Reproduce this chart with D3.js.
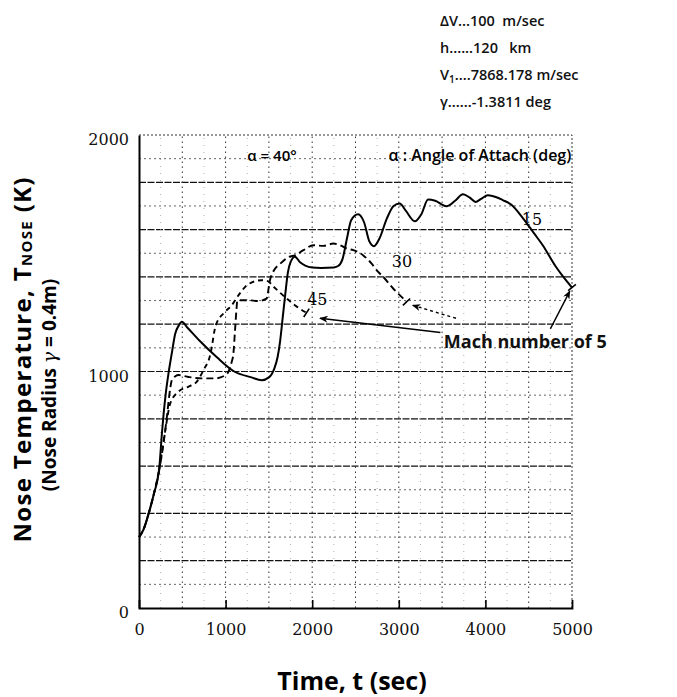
<!DOCTYPE html>
<html>
<head>
<meta charset="utf-8">
<script src="https://cdn.jsdelivr.net/npm/d3@7"></script>
<style>
  body { margin: 0; background: #fff; }
  text { white-space: pre; }
</style>
</head>
<body>
<script>
// tick labels
const xTicks = [0, 1000, 2000, 3000, 4000, 5000];
const yTicks = [0, 1000, 2000];

// flight conditions (top right)
const conditions = [
  ['ΔV', '', '...100  m/sec'],
  ['h', '', '......120   km'],
  ['V', '1', '....7868.178 m/sec'],
  ['γ', '', '......-1.3811 deg']
];

// alpha = 15 deg (solid)
const time15 = [0, 50, 112, 170, 235, 265, 284, 310, 342, 380, 418, 460, 495, 560, 700, 900, 1100, 1300, 1416,
  1500, 1560, 1600, 1630, 1660, 1690, 1720, 1750, 1800, 1860, 1920, 2000, 2100, 2250, 2300, 2350, 2400, 2450,
  2530, 2600, 2660, 2713, 2780, 2860, 2940, 3010, 3080, 3185, 3260, 3338, 3420, 3550, 3650, 3741, 3820, 3887,
  3950, 4029, 4120, 4200, 4300, 4430, 4560, 4660, 4810, 4900, 5000];
const temp15 = [300, 330, 400, 480, 597, 740, 820, 910, 995, 1080, 1160, 1195, 1210, 1185, 1130, 1060, 1000, 975, 963,
  975, 1010, 1060, 1130, 1230, 1330, 1420, 1462, 1485, 1462, 1448, 1440, 1438, 1440, 1446, 1475, 1560, 1640,
  1665, 1630, 1550, 1530, 1565, 1645, 1700, 1710, 1680, 1635, 1665, 1727, 1722, 1699, 1722, 1749, 1735, 1717,
  1730, 1745, 1738, 1725, 1705, 1650, 1585, 1535, 1445, 1400, 1355];

// alpha = 30 deg (dashed)
const time30 = [0, 50, 112, 170, 235, 280, 322, 350, 380, 420, 457, 572, 725, 879, 1000, 1032, 1070, 1090, 1109,
  1125, 1136, 1263, 1378, 1473, 1512, 1554, 1631, 1727, 1804, 1899, 2014, 2129, 2244, 2322, 2399, 2475, 2590,
  2686, 2762, 2820, 2935, 3050, 3089];
const temp30 = [300, 330, 400, 480, 585, 690, 808, 900, 964, 980, 985, 977, 971, 971, 985, 999, 1040, 1076, 1175,
  1260, 1301, 1301, 1298, 1308, 1386, 1425, 1456, 1484, 1492, 1513, 1534, 1531, 1541, 1534, 1520, 1513, 1491,
  1456, 1421, 1400, 1351, 1309, 1294];

// alpha = 45 deg (short dashes)
const time45 = [0, 50, 112, 170, 235, 270, 304, 361, 457, 572, 668, 745, 822, 887, 994, 1071, 1148, 1263, 1416,
  1480, 1570, 1685, 1800, 1934];
const temp45 = [300, 330, 400, 480, 590, 670, 752, 865, 915, 936, 957, 1006, 1069, 1196, 1252, 1280, 1322, 1369, 1386,
  1383, 1353, 1315, 1280, 1248];

const alphas = ['15', '30', '45'];

const width = 677, height = 697;
const svg = d3.select('body').append('svg')
  .attr('width', width)
  .attr('height', height)
  .style('font-family', "'Open Sans', sans-serif");

// scales
const x = d3.scaleLinear().domain([0, 5000]).range([139, 572]);
const y = d3.scaleLinear().domain([0, 2000]).range([608, 135]);

// grid
const grid = svg.append('g');
grid.selectAll('.hgrid')
  .data(d3.range(100, 2000, 100))
  .join('line')
  .attr('x1', x(0)).attr('x2', x(5000))
  .attr('y1', d => y(d)).attr('y2', d => y(d))
  .attr('stroke', d => d % 200 === 0 ? '#111' : '#555')
  .attr('stroke-width', d => d % 200 === 0 ? 1.2 : 0.9)
  .attr('stroke-dasharray', d => d % 200 === 0 ? '7,1.5' : '2,3');

grid.selectAll('.vgrid')
  .data(d3.range(250, 5000, 250))
  .join('line')
  .attr('x1', d => x(d)).attr('x2', d => x(d))
  .attr('y1', y(0)).attr('y2', y(2000))
  .attr('stroke', d => d % 500 === 0 ? '#333' : '#999')
  .attr('stroke-width', d => d % 500 === 0 ? 1 : 0.8)
  .attr('stroke-dasharray', d => d % 500 === 0 ? '1.5,3.5' : '1,6');

// top and right borders (dotted)
grid.append('line')
  .attr('x1', x(0)).attr('x2', x(5000)).attr('y1', y(2000)).attr('y2', y(2000))
  .attr('stroke', '#333').attr('stroke-dasharray', '2,2');
grid.append('line')
  .attr('x1', x(5000)).attr('x2', x(5000)).attr('y1', y(0)).attr('y2', y(2000))
  .attr('stroke', '#333').attr('stroke-dasharray', '2,2');

// axes
svg.append('g')
  .attr('transform', `translate(0,${y(0)})`)
  .call(d3.axisBottom(x).tickValues(xTicks).tickFormat(d3.format('d')).tickSize(-8).tickPadding(16))
  .call(g => g.select('.domain').attr('stroke-width', 1.8))
  .call(g => g.selectAll('.tick line').attr('stroke-width', 1.6)
    .filter(d => d === 0 || d === 5000).remove())
  .call(g => g.selectAll('text')
    .attr('font-family', "'DejaVu Serif', serif")
    .attr('font-size', 16)
    .attr('fill', '#111'));

svg.append('g')
  .attr('transform', `translate(${x(0)},0)`)
  .call(d3.axisLeft(y).tickValues(yTicks).tickFormat(d3.format('d')).tickSize(0).tickPadding(10))
  .call(g => g.select('.domain').attr('stroke-width', 2))
  .call(g => g.selectAll('text')
    .attr('font-family', "'DejaVu Serif', serif")
    .attr('font-size', 16)
    .attr('dy', '0.6em')
    .attr('fill', '#111'));

// curves
const line = d3.line()
  .x(d => x(d[0]))
  .y(d => y(d[1]))
  .curve(d3.curveMonotoneX);

const series = [
  { key: alphas[0], pts: d3.zip(time15, temp15), dash: null, w: 2 },
  { key: alphas[1], pts: d3.zip(time30, temp30), dash: '7,4', w: 1.9 },
  { key: alphas[2], pts: d3.zip(time45, temp45), dash: '5,4', w: 1.9 }
];

const curves = svg.append('g');
series.forEach(s => {
  curves.append('path')
    .datum(s.pts)
    .attr('d', line)
    .attr('fill', 'none')
    .attr('stroke', '#000')
    .attr('stroke-width', s.w)
    .attr('stroke-dasharray', s.dash);

  // small end mark across the curve
  const a = s.pts[s.pts.length - 2], b = s.pts[s.pts.length - 1];
  const dx = x(b[0]) - x(a[0]), dy = y(b[1]) - y(a[1]);
  const len = Math.hypot(dx, dy);
  const nx = -dy / len * 5, ny = dx / len * 5;
  curves.append('line')
    .attr('x1', x(b[0]) - nx).attr('y1', y(b[1]) - ny)
    .attr('x2', x(b[0]) + nx).attr('y2', y(b[1]) + ny)
    .attr('stroke', '#000').attr('stroke-width', 1.6);
});

// curve labels
const labelAt = [[4420, 1620], [2920, 1440], [1942, 1283]];
svg.append('g').selectAll('text')
  .data(alphas)
  .join('text')
  .attr('x', (d, i) => x(labelAt[i][0]))
  .attr('y', (d, i) => y(labelAt[i][1]))
  .attr('font-family', "'DejaVu Serif', serif")
  .attr('font-size', 16)
  .text(d => d);

// arrows to Mach 5 points
const defs = svg.append('defs');
defs.append('marker')
  .attr('id', 'head')
  .attr('viewBox', '0 0 10 8')
  .attr('refX', 9).attr('refY', 4)
  .attr('markerWidth', 9).attr('markerHeight', 7)
  .attr('markerUnits', 'userSpaceOnUse')
  .attr('orient', 'auto')
  .append('path')
  .attr('d', 'M0,0 L10,4 L0,8 L3,4 z')
  .attr('fill', '#000');

const arrows = [
  { from: [3480, 1165], to: [2090, 1225], dash: null },
  { from: [3660, 1225], to: [3160, 1280], dash: '3,3' },
  { from: [4750, 1180], to: [4975, 1340], dash: null }
];
svg.append('g').selectAll('line')
  .data(arrows)
  .join('line')
  .attr('x1', d => x(d.from[0])).attr('y1', d => y(d.from[1]))
  .attr('x2', d => x(d.to[0])).attr('y2', d => y(d.to[1]))
  .attr('stroke', '#000')
  .attr('stroke-width', 1.4)
  .attr('stroke-dasharray', d => d.dash)
  .attr('marker-end', 'url(#head)');

svg.append('text')
  .attr('x', x(3520)).attr('y', y(1100))
  .attr('font-size', 18)
  .attr('font-weight', 700)
  .attr('fill', '#111')
  .text('Mach number of 5');

// annotations inside top of plot
svg.append('text')
  .attr('x', x(1250)).attr('y', y(1890))
  .attr('font-size', 15)
  .attr('font-weight', 600)
  .text('α = 40°');

svg.append('text')
  .attr('x', x(2880)).attr('y', y(1890))
  .attr('font-size', 16)
  .attr('font-weight', 600)
  .text('α : Angle of Attach (deg)');

// flight conditions
const cond = svg.append('g')
  .attr('font-size', 14.5)
  .attr('font-weight', 600)
  .attr('fill', '#111');
conditions.forEach((c, i) => {
  const t = cond.append('text').attr('x', 440).attr('y', 26 + i * 27);
  t.append('tspan').text(c[0]);
  if (c[1]) t.append('tspan').attr('font-size', 10).attr('dy', 3).text(c[1]);
  t.append('tspan').attr('dy', c[1] ? -3 : 0).text(c[2]);
});

// axis titles
svg.append('text')
  .attr('x', 352).attr('y', 690)
  .attr('text-anchor', 'middle')
  .attr('font-size', 25)
  .attr('font-weight', 700)
  .text('Time, t (sec)');

const yt = svg.append('text')
  .attr('transform', 'translate(31,360) rotate(-90)')
  .attr('text-anchor', 'middle')
  .attr('font-size', 24)
  .attr('font-weight', 700)
  .attr('textLength', 365)
  .attr('lengthAdjust', 'spacing');
yt.append('tspan').text('Nose Temperature, T');
yt.append('tspan').attr('font-size', 15).attr('dy', 1).text('NOSE');
yt.append('tspan').attr('dy', -1).text(' (K)');

const yt2 = svg.append('text')
  .attr('transform', 'translate(56,385) rotate(-90)')
  .attr('text-anchor', 'middle')
  .attr('font-size', 19)
  .attr('font-weight', 700);
yt2.append('tspan').text('(Nose Radius ');
yt2.append('tspan').attr('font-family', "'DejaVu Serif', serif").attr('font-style', 'italic').attr('font-weight', 400).text('γ');
yt2.append('tspan').text(' = 0.4m)');
</script>
</body>
</html>
